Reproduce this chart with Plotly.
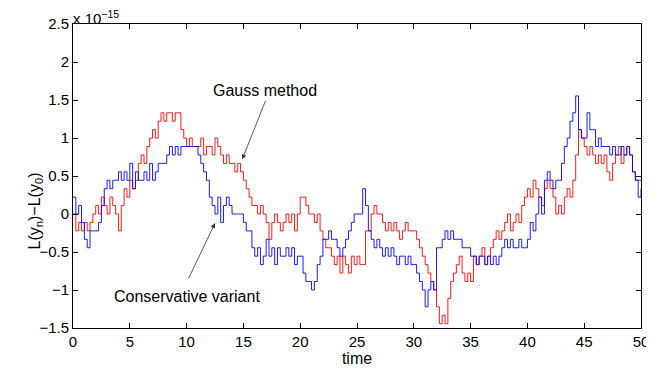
import plotly.graph_objects as go

time = [i * 0.25 for i in range(201)]

gauss_steps = [
    0, -2, -1, -2,   -1, -2, -1, 0,   1, 0, 2, 1,   0, 2, 1, 0,   -2, 1, 3, 2,
    4, 3, 4, 6,   7, 6, 8, 9,   10, 9, 11, 12,   11, 12, 12, 11,   12, 12, 10, 9,
    8, 9, 8, 8,   8, 9, 7, 8,   8, 7, 9, 8,   7, 6, 7, 6,   6, 5, 6, 5,
    4, 3, 2, 1,   1, 0, 1, 0,   -1, -3, -1, 0,   -1, -2, -1, 0,   -1, 0, -2, 0,
    2, 2, 1, 0,   0, -1, 0, -2,   -3, -4, -4, -5,   -6, -5, -7, -5,   -6, -7, -5, -6,
    -5, -6, -6, -2,   -2, 0, 1, 0,   0, -1, -2, -1,   -2, -1, -2, -3,   -2, -1, -2, -2,
    -2, -3, -4, -5,   -6, -7, -8, -9,   -11, -13, -12, -13,   -10, -8, -7, -6,   -5, -7, -8, -7,
    -8, -5, -6, -5,   -4, -6, -5, -4,   -3, -2, -3, -2,   -1, 0, -2, -1,   0, -1, 1, 2,
    3, 2, 4, 3,   2, 1, 3, 4,   3, 2, 0, 1,   0, 2, 3, 2,   4, 7, 10, 9,
    8, 7, 8, 7,   6, 7, 6, 7,   5, 4, 6, 7,   8, 6, 7, 8,   7, 5, 4, 4,
    4,
]

conservative_steps = [
    2, 0, 1, -1,   -3, -4, -2, -2,   -2, -1, 1, 3,   4, 3, 4, 4,   5, 4, 5, 4,
    6, 3, 5, 4,   4, 5, 4, 6,   4, 5, 6, 6,   6, 7, 8, 7,   8, 7, 8, 8,
    8, 8, 8, 8,   7, 6, 5, 4,   2, 1, 0, 2,   -1, 1, 2, 1,   0, 0, 0, 0,
    -1, -2, -2, -4,   -5, -4, -6, -5,   -3, -5, -4, -6,   -4, -5, -5, -4,   -5, -4, -6, -5,
    -5, -7, -8, -8,   -9, -8, -6, -5,   -3, -3, -2, -3,   -3, -4, -5, -4,   -3, -2, -1, 0,
    0, 0, 3, 1,   -2, -3, -4, -3,   -4, -5, -4, -5,   -4, -5, -6, -5,   -5, -6, -5, -6,
    -6, -7, -8, -9,   -11, -9, -8, -9,   -4, -4, -3, -2,   -3, -2, -3, -3,   -3, -4, -4, -4,
    -5, -5, -6, -5,   -5, -6, -5, -6,   -5, -6, -5, -4,   -3, -4, -3, -4,   -4, -3, -4, -4,
    -3, -1, -2, 0,   2, 0, 4, 5,   4, 3, 4, 4,   6, 8, 9, 11,   12, 14, 10, 9,
    9, 12, 10, 10,   8, 9, 8, 8,   8, 7, 8, 7,   7, 8, 7, 8,   7, 5, 4, 2,
    3,
]

STEP = 0.111  # one round-off step in units of 1e-15

x_ticks = [0, 5, 10, 15, 20, 25, 30, 35, 40, 45, 50]
y_ticks = [-1.5, -1, -0.5, 0, 0.5, 1, 1.5, 2, 2.5]
y_tick_text = ['\u22121.5', '\u22121', '\u22120.5', '0', '0.5', '1', '1.5', '2', '2.5']

gauss = [k * STEP for k in gauss_steps]
conservative = [k * STEP for k in conservative_steps]

FONT = 'Liberation Sans, Arial, Helvetica, sans-serif'

fig = go.Figure()
fig.add_trace(go.Scatter(
    x=time, y=gauss, mode='lines', line_shape='hv',
    line=dict(color='rgb(255,0,0)', width=0.9), name='Gauss method'
))
fig.add_trace(go.Scatter(
    x=time, y=conservative, mode='lines', line_shape='hv',
    line=dict(color='rgb(0,0,255)', width=0.9), name='Conservative variant'
))

axis_common = dict(
    showline=True, linecolor='black', linewidth=1, mirror='ticks',
    ticks='inside', ticklen=5, tickcolor='black', tickwidth=1,
    showgrid=False, zeroline=False, automargin=False,
    tickfont=dict(family=FONT, size=15, color='black')
)

# page body adds 8px offset, margins compensate for it
fig.update_layout(
    width=654, height=382,
    margin=dict(l=65, r=21, t=16, b=62),
    paper_bgcolor='white', plot_bgcolor='white',
    showlegend=False,
    xaxis=dict(range=[0, 50], tickvals=x_ticks,
               title=dict(text='time', font=dict(family=FONT, size=16, color='black'), standoff=0),
               **axis_common),
    yaxis=dict(range=[-1.5, 2.5], tickvals=y_ticks, ticktext=y_tick_text, **axis_common),
)

# labels and arrows
fig.add_annotation(x=16.9, y=1.63, text='Gauss method', showarrow=False,
                   font=dict(family=FONT, size=16, color='black'))
fig.add_annotation(x=14.9, y=0.72, ax=17.0, ay=1.51, axref='x', ayref='y',
                   text='', showarrow=True, arrowhead=2, arrowsize=1.2,
                   arrowwidth=0.8, arrowcolor='#333333')
fig.add_annotation(x=10.0, y=-1.08, text='Conservative variant', showarrow=False,
                   font=dict(family=FONT, size=16, color='black'))
fig.add_annotation(x=12.5, y=-0.12, ax=10.1, ay=-0.87, axref='x', ayref='y',
                   text='', showarrow=True, arrowhead=2, arrowsize=1.2,
                   arrowwidth=0.8, arrowcolor='#333333')

fig.add_annotation(xref='paper', yref='paper', x=-0.003, y=1.02, xanchor='left', yanchor='middle',
                   text='x 10<sup>\u221215</sup>', showarrow=False,
                   font=dict(family=FONT, size=15, color='black'))
fig.add_annotation(xref='paper', yref='paper', x=-0.066, y=0.385, xanchor='center', yanchor='middle',
                   text='L(y<sub>n</sub>)\u2212L(y<sub>0</sub>)', textangle=-90, showarrow=False,
                   font=dict(family=FONT, size=16, color='black'))

fig.write_html("out.html")
